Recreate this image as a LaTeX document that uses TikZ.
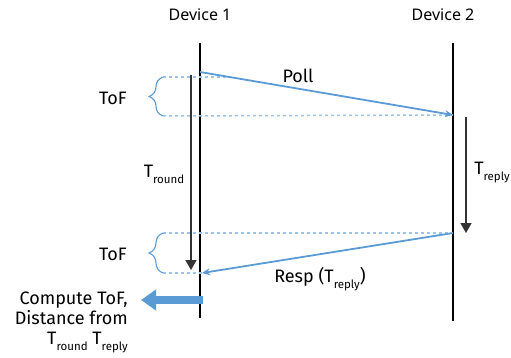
\documentclass[tikz,border=0pt]{standalone}
\usepackage{fontspec}
\setmainfont{Fira Sans}
\newfontfamily\devfont{Noto Sans}
\usetikzlibrary{arrows.meta,decorations.pathreplacing}
\definecolor{msgblue}{HTML}{5B9BD5}
\definecolor{dashblue}{HTML}{9DC3E6}
\newcommand\subtxt[1]{\raisebox{-6pt}{\fontsize{11.5}{13}\selectfont #1}}
\tikzset{
  lbl/.style={font=\fontsize{18}{21}\selectfont, inner sep=0pt},
  devlbl/.style={font=\devfont\fontsize{16}{19}\selectfont, inner sep=0pt},
  lifeline/.style={draw=black, line width=1.1pt},
  timeline/.style={draw=black!80, line width=1.4pt, -{Triangle[length=10pt,width=11pt]}},
  msg/.style={draw=msgblue, line width=1.8pt, -{Stealth[length=8pt,width=7pt]}},
  dashln/.style={draw=dashblue, line width=1.5pt, dash pattern=on 3pt off 3pt},
  bracestyle/.style={draw=msgblue, line width=1.1pt, decorate, decoration={brace, amplitude=14pt, aspect=0.5}},
  bigarrow/.style={draw=msgblue, line width=8pt, -{Triangle[length=15pt 0 0,width=20pt 0 0]}}
}
\begin{document}
\begin{tikzpicture}[x=1pt,y=-1pt]
\useasboundingbox (0,0) rectangle (511,358);
% device labels
\node[devlbl] (dev1) at (200,15) {Device 1};
\node[devlbl] (dev2) at (443,15) {Device 2};
% lifelines
\coordinate (l1t) at (200,43); \coordinate (l1b) at (200,318);
\coordinate (l2t) at (453,43); \coordinate (l2b) at (453,321);
\draw[lifeline] (l1t) -- (l1b);
\draw[lifeline] (l2t) -- (l2b);
% message points
\coordinate (pollS) at (200,72);
\coordinate (pollE) at (453,115);
\coordinate (respS) at (453,233);
\coordinate (respE) at (202,273);
% dashed reference lines
\coordinate (b1t) at (163,77); \coordinate (b1b) at (163,116);
\coordinate (b2t) at (163,233); \coordinate (b2b) at (163,273);
\coordinate (d1e) at (230,77);
\draw[dashln] (b1t) -- (d1e);
\draw[dashln] (b1b) -- (pollE);
\draw[dashln] (b2t) -- (respS);
\draw[dashln] (b2b) -- (respE);
% braces
\draw[bracestyle] (b1b) -- (b1t);
\draw[bracestyle] (b2b) -- (b2t);
\node[lbl] (tof1) at (113,98) {ToF};
\node[lbl] (tof2) at (113,254) {ToF};
% messages
\draw[msg] (pollS) -- (pollE);
\draw[msg] (respS) -- (respE);
\node[lbl] (poll) at (298,76) {Poll};
\node[lbl] (resp) at (320,279) {Resp (T\subtxt{reply})};
% time arrows
\coordinate (trS) at (191,75); \coordinate (trE) at (191,270);
\draw[timeline] (trS) -- (trE);
\node[lbl] (tround) at (164,174) {T\subtxt{round}};
\coordinate (tpS) at (466,117); \coordinate (tpE) at (466,233);
\draw[timeline] (tpS) -- (tpE);
\node[lbl] (treply) at (492,173) {T\subtxt{reply}};
% compute arrow
\coordinate (cS) at (203,300); \coordinate (cE) at (141,300);
\draw[bigarrow] (cS) -- (cE);
\node[lbl, anchor=north east, align=right, font=\fontsize{18}{20}\selectfont] (comp) at (128,292)
  {Compute ToF,\\Distance from\\T\subtxt{round} T\subtxt{reply}};
\end{tikzpicture}
\end{document}
